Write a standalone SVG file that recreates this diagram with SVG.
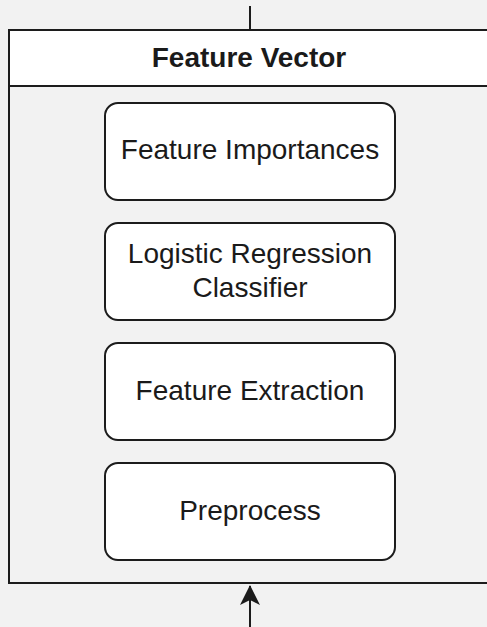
<svg xmlns="http://www.w3.org/2000/svg" width="487" height="627" viewBox="0 0 487 627">
  <style>
    .frame { fill: none; stroke: #1c1c1c; stroke-width: 2; }
    .step rect { fill: #ffffff; stroke: #1c1c1c; stroke-width: 2; }
    .label { font-family: "Liberation Sans", Arial, Helvetica, sans-serif; font-size: 28px; fill: #1a1a1a; text-anchor: middle; }
    .title { font-weight: bold; }
    .wire { fill: none; stroke: #1c1c1c; stroke-width: 2; }
  </style>
  <defs>
    <marker id="arrow" viewBox="0 0 20 20" refX="19" refY="10" markerWidth="20" markerHeight="20" markerUnits="userSpaceOnUse" orient="auto">
      <path d="M0,0 L20,10 L0,20 L5,10 Z" fill="#1c1c1c"/>
    </marker>
  </defs>

  <rect width="487" height="627" fill="#f2f2f2"/>

  <!-- connectors -->
  <g id="connectors">
    <line class="wire" x1="250" y1="6" x2="250" y2="30"/>
    <line class="wire" x1="250" y1="627" x2="250" y2="586" marker-end="url(#arrow)"/>
  </g>

  <!-- container with header -->
  <g id="feature-vector">
    <rect x="9" y="30" width="490" height="56" fill="#ffffff"/>
    <rect class="frame" x="9" y="30" width="490" height="553"/>
    <line class="frame" x1="9" y1="86" x2="499" y2="86"/>
    <text class="label title" x="249" y="67">Feature Vector</text>
  </g>

  <g id="feature-importances" class="step">
    <rect x="105" y="103" width="290" height="97" rx="13"/>
    <text class="label" x="250" y="159">Feature Importances</text>
  </g>

  <g id="logistic-regression" class="step">
    <rect x="105" y="223" width="290" height="97" rx="13"/>
    <text class="label" x="250" y="263">Logistic Regression</text>
    <text class="label" x="250" y="297">Classifier</text>
  </g>

  <g id="feature-extraction" class="step">
    <rect x="105" y="343" width="290" height="97" rx="13"/>
    <text class="label" x="250" y="400">Feature Extraction</text>
  </g>

  <g id="preprocess" class="step">
    <rect x="105" y="463" width="290" height="97" rx="13"/>
    <text class="label" x="250" y="520">Preprocess</text>
  </g>
</svg>
